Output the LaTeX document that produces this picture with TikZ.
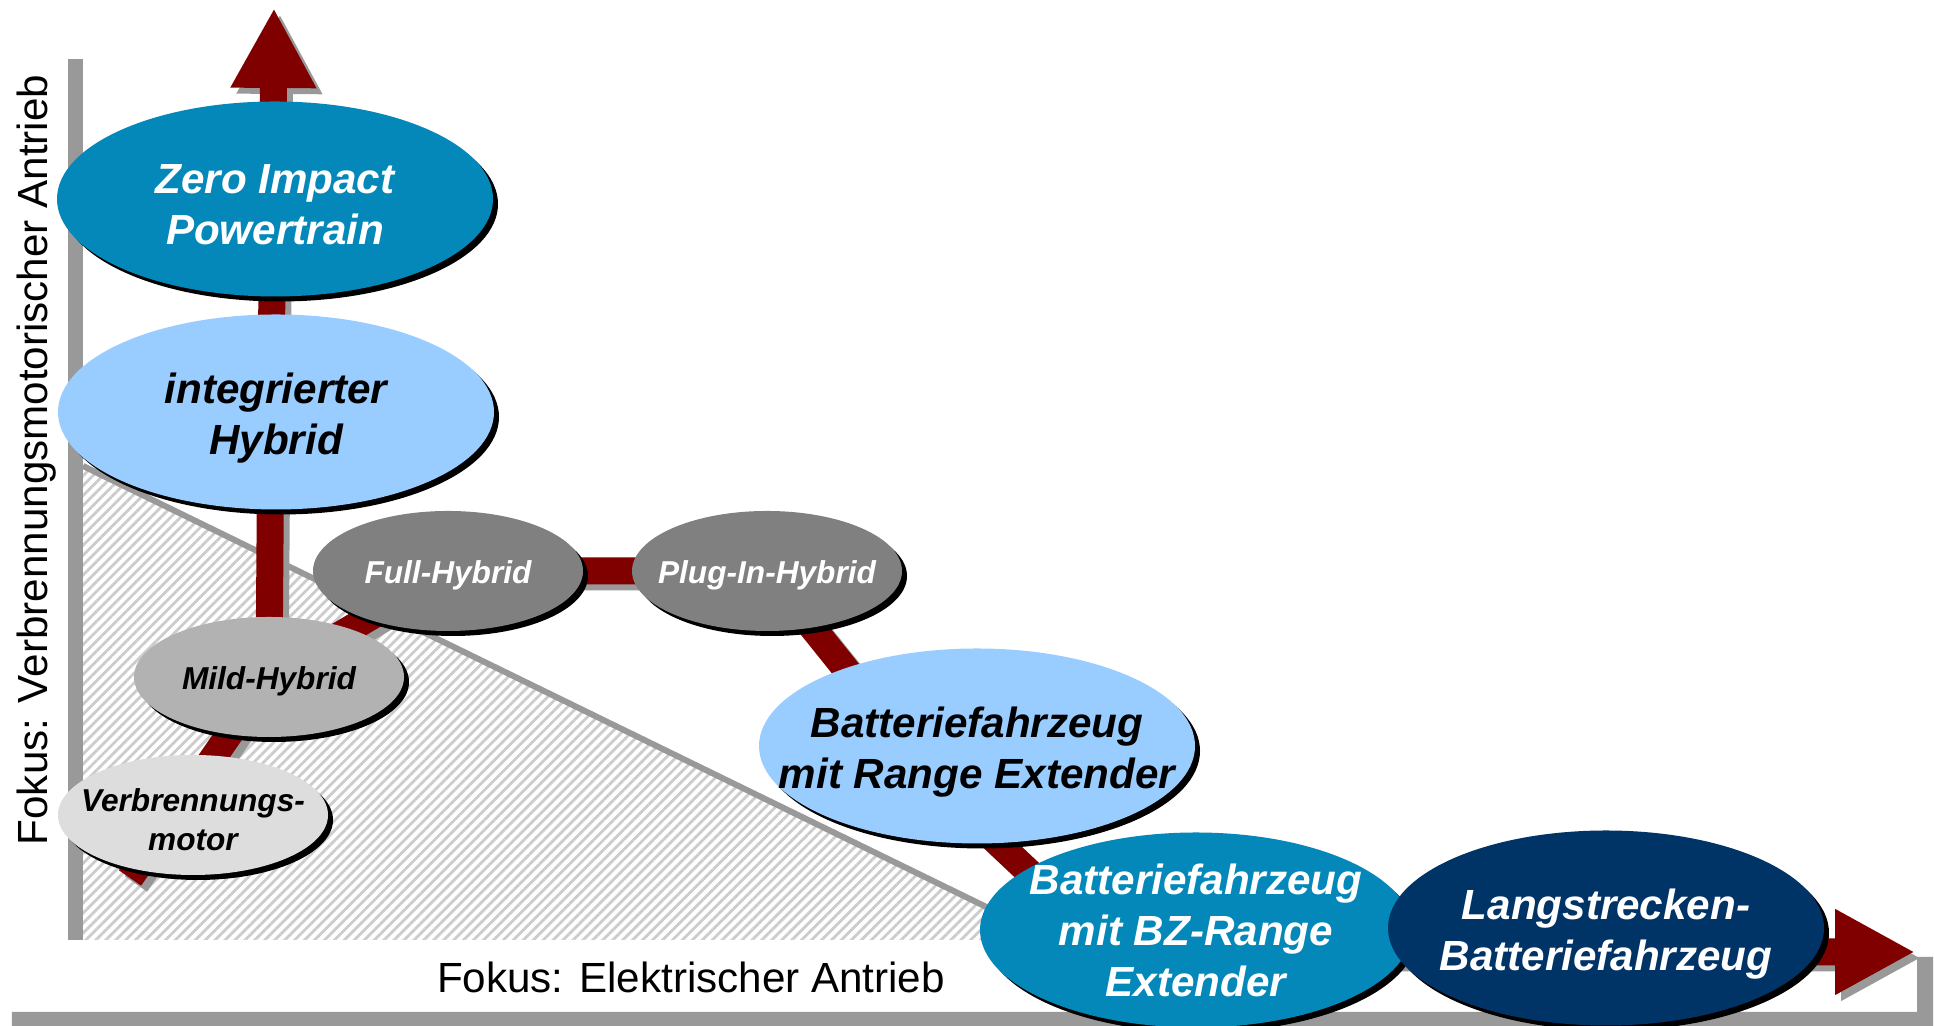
\documentclass[tikz,border=0pt]{standalone}
\usepackage{fontspec}
\setmainfont{Liberation Sans}
\usetikzlibrary{arrows.meta,positioning,shapes.geometric,shadows,patterns.meta}
\pgfdeclarelayer{background}
\pgfsetlayers{background,main}
\definecolor{arrowred}{HTML}{800000}
\definecolor{shadegray}{HTML}{999999}
\definecolor{zipblue}{HTML}{0388B9}
\definecolor{lightblue}{HTML}{99CCFF}
\definecolor{midgray}{HTML}{808080}
\definecolor{silvergray}{HTML}{B2B2B2}
\definecolor{palegray}{HTML}{DDDDDD}
\definecolor{navyblue}{HTML}{003366}

\begin{document}
\begin{tikzpicture}[
  oval/.style={ellipse, inner sep=0pt, drop shadow={shadow xshift=0.05cm, shadow yshift=-0.05cm, fill=black, opacity=1}},
  bigoval/.style={oval, minimum width=4.36cm, minimum height=1.95cm},
  smalloval/.style={oval, minimum width=2.7cm, minimum height=1.2cm},
  bigtxt/.style={align=center, yshift=-0.06cm, font=\fontsize{12}{14.5}\selectfont\bfseries\itshape},
  smalltxt/.style={align=center, yshift=-0.045cm, font=\fontsize{9}{11.2}\selectfont\bfseries\itshape},
  axislabel/.style={anchor=base, font=\fontsize{12}{14}\selectfont},
  route/.style={line width=0.27cm, draw=arrowred, -{Triangle[width=0.8cm, length=0.8cm]}},
  routeshade/.style={route, draw=shadegray, transform canvas={xshift=0.06cm, yshift=-0.06cm}}
]
\useasboundingbox (0,0) rectangle (19.34,10.26);

% axis labels
\node[axislabel, rotate=90] (ylab) at (0.48,5.66) {Fokus: Verbrennungsmotorischer Antrieb};
\node[axislabel] (xlab) at (6.91,0.33) {Fokus: Elektrischer Antrieb};

% stages
\node[bigoval, fill=zipblue] (zip) at (2.75,8.27) {};
\node[bigtxt, text=white] (zip-t) at (zip) {Zero Impact\\Powertrain};
\node[bigoval, fill=lightblue] (integr) at (2.76,6.14) {};
\node[bigtxt] (integr-t) at (integr) {integrierter\\Hybrid};
\node[smalloval, fill=midgray] (full) at (4.48,4.55) {};
\node[smalltxt, text=white] (full-t) at (full) {Full-Hybrid};
\node[smalloval, fill=midgray] (plug) at (7.67,4.55) {};
\node[smalltxt, text=white] (plug-t) at (plug) {Plug-In-Hybrid};
\node[smalloval, fill=silvergray] (mild) at (2.69,3.49) {};
\node[smalltxt] (mild-t) at (mild) {Mild-Hybrid};
\node[smalloval, fill=palegray] (vm) at (1.93,2.11) {};
\node[smalltxt] (vm-t) at (vm) {Verbrennungs-\\motor};
\node[bigoval, fill=lightblue] (batre) at (9.77,2.80) {};
\node[bigtxt] (batre-t) at (batre) {Batteriefahrzeug\\mit Range Extender};
\node[bigoval, minimum width=4.32cm, fill=zipblue] (bz) at (11.96,0.96) {};
\node[bigtxt, yshift=0.06cm, text=white] (bz-t) at (bz) {Batteriefahrzeug\\mit BZ-Range\\Extender};
\node[bigoval, fill=navyblue] (lang) at (16.06,0.98) {};
\node[bigtxt, text=white] (lang-t) at (lang) {Langstrecken-\\Batteriefahrzeug};

% route ends and bends
\coordinate (start) at (1.30,1.48);
\coordinate (tipT) at (2.74,10.18);
\coordinate (b1) at (9.46,2.32);
\coordinate (b2) at (11.14,0.74);
\coordinate (tipR) at (19.15,0.74);

\begin{pgfonlayer}{background}
  % hatched area and frame
  \fill[pattern={Lines[angle=45, distance=2pt, line width=0.8pt]}, pattern color=gray!40]
    (0.83,0.86) -- (0.83,5.60) -- (10.54,0.86) -- cycle;
  \draw[shadegray, line width=0.06cm] (0.83,5.60) -- (10.54,0.86);
  \fill[shadegray] (0.68,0.86) rectangle (0.83,9.67);
  \fill[shadegray] (0.12,0) -- (19.33,0) -- (19.33,0.69) -- (19.17,0.69) -- (19.17,0.14) -- (0.12,0.14) -- cycle;
  % routes
  \draw[routeshade] (start) -- (mild.center) -- (tipT);
  \draw[routeshade] (mild.center) -- (full.center) -- (plug.center) -- (b1) -- (b2) -- (tipR);
  \draw[route] (start) -- (mild.center) -- (tipT);
  \draw[route] (mild.center) -- (full.center) -- (plug.center) -- (b1) -- (b2) -- (tipR);
\end{pgfonlayer}
\end{tikzpicture}
\end{document}
